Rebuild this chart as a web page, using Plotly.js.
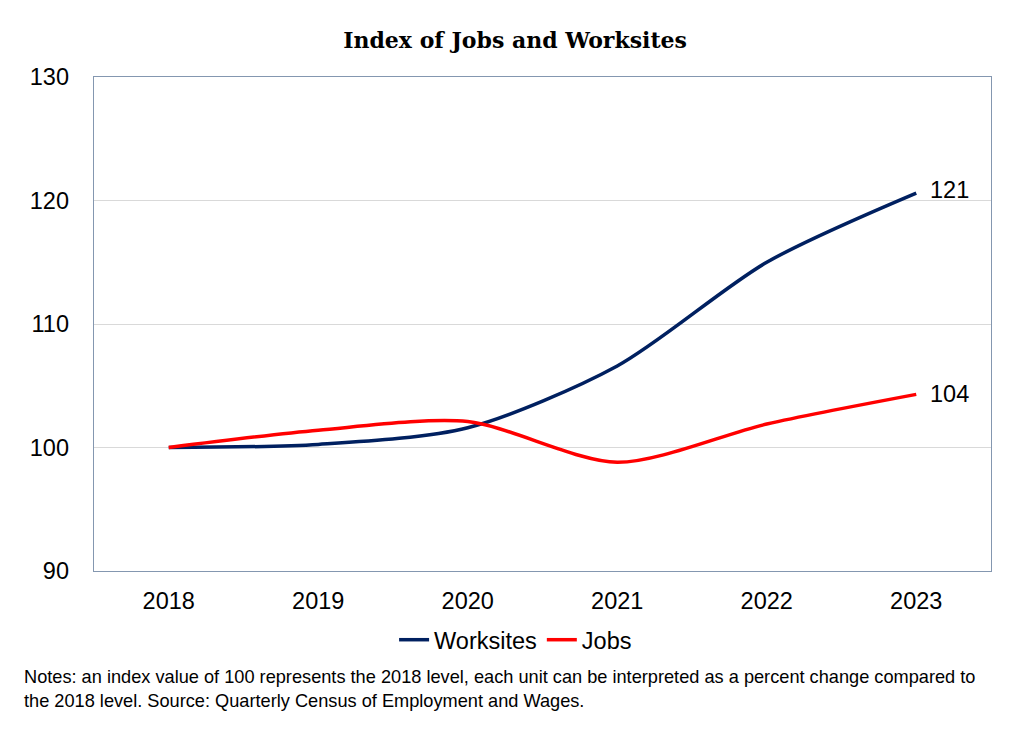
<!DOCTYPE html>
<html>
<head>
<meta charset="utf-8">
<script src="https://cdn.plot.ly/plotly-3.0.1.min.js"></script>
<style>
html,body{margin:0;padding:0;background:#fff;}
#chart{width:1024px;height:731px;}
</style>
</head>
<body>
<div id="chart"></div>
<script>
var years = ['2018', '2019', '2020', '2021', '2022', '2023'];
var worksites = [100, 100.25, 101.6, 106.6, 115.0, 120.6];
var jobs = [100, 101.4, 102.1, 98.8, 101.9, 104.3];
var worksitesLabel = '121';
var jobsLabel = '104';

var last = years.length - 1;

var traces = [
  {x: years, y: worksites, name: 'Worksites', type: 'scatter', mode: 'lines',
   line: {color: '#002060', width: 3.5, shape: 'spline', smoothing: 0.8}},
  {x: years, y: jobs, name: 'Jobs', type: 'scatter', mode: 'lines',
   line: {color: '#FF0000', width: 3.5, shape: 'spline', smoothing: 0.8}}
];

var layout = {
  width: 1024, height: 731,
  margin: {l: 94, r: 33, t: 77, b: 160},
  paper_bgcolor: '#fff', plot_bgcolor: '#fff',
  font: {family: 'Arial, Liberation Sans, sans-serif', color: '#000'},
  title: {text: '<b>Index of Jobs and Worksites</b>', x: 0.503, xanchor: 'center', y: 0.945, yanchor: 'middle',
          font: {family: 'DejaVu Serif, serif', size: 22, color: '#000'}},
  xaxis: {type: 'category', range: [-0.5, 5.5], showgrid: false, zeroline: false,
          showline: true, mirror: true, linecolor: '#8497B0', linewidth: 1.3,
          tickfont: {size: 23.5, color: '#000'}, ticks: '', ticklabelstandoff: 8},
  yaxis: {range: [90, 130], dtick: 10, showgrid: true, gridcolor: '#d9d9d9', gridwidth: 1,
          zeroline: false, showline: true, mirror: true, linecolor: '#8497B0', linewidth: 1.3,
          tickfont: {size: 23.5, color: '#000'}, ticks: '', ticklabelstandoff: 19},
  showlegend: true,
  legend: {orientation: 'h', x: 0.47, xanchor: 'center', y: -0.095, yanchor: 'top',
           font: {size: 23.5, color: '#000'}, itemwidth: 30, tracegroupgap: 0},
  annotations: [
    {xref: 'x', yref: 'y', x: last, y: worksites[last], text: worksitesLabel, showarrow: false, xanchor: 'left', yanchor: 'middle',
     xshift: 12, yshift: 3, font: {size: 23.5, color: '#000'}},
    {xref: 'x', yref: 'y', x: last, y: jobs[last], text: jobsLabel, showarrow: false, xanchor: 'left', yanchor: 'middle',
     xshift: 12, yshift: 0, font: {size: 23.5, color: '#000'}},
    {xref: 'paper', yref: 'paper', x: -0.08, y: -0.19, xanchor: 'left', yanchor: 'top', align: 'left',
     showarrow: false, font: {size: 18.2, color: '#000', family: 'Arial, Liberation Sans, sans-serif'},
     text: 'Notes: an index value of 100 represents the 2018 level, each unit can be interpreted as a percent change compared to<br>the 2018 level. Source: Quarterly Census of Employment and Wages.'}
  ]
};

Plotly.newPlot('chart', traces, layout, {displayModeBar: false, staticPlot: true});
</script>
</body>
</html>
